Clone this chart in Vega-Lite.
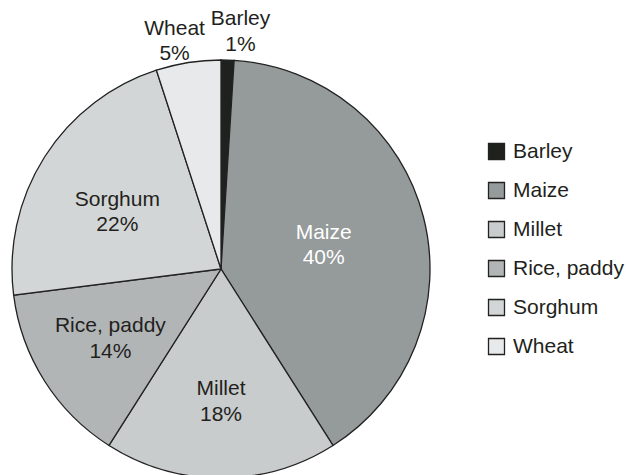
{
  "$schema": "https://vega.github.io/schema/vega-lite/v6.json",
  "width": 418,
  "height": 418,
  "padding": {"left": 12, "top": 60, "right": 196, "bottom": 0},
  "autosize": {"type": "none"},
  "background": "white",
  "config": {"view": {"stroke": null}, "font": "Liberation Sans"},
  "data": {
    "values": [
      {"crop": "Barley", "share": 1},
      {"crop": "Maize", "share": 40},
      {"crop": "Millet", "share": 18},
      {"crop": "Rice, paddy", "share": 14},
      {"crop": "Sorghum", "share": 22},
      {"crop": "Wheat", "share": 5}
    ]
  },
  "transform": [
    {"calculate": "datum.crop + '\\n' + datum.share + '%'", "as": "label"}
  ],
  "encoding": {
    "theta": {"field": "share", "type": "quantitative", "stack": true},
    "order": {"field": "crop", "sort": "ascending"}
  },
  "layer": [
    {
      "mark": {"type": "arc", "stroke": "#222222", "strokeWidth": 1.3},
      "encoding": {
        "color": {
          "field": "crop",
          "type": "nominal",
          "scale": {
            "domain": ["Barley", "Maize", "Millet", "Rice, paddy", "Sorghum", "Wheat"],
            "range": ["#1f211e", "#959a9a", "#c8cccc", "#b1b5b6", "#d3d6d6", "#e8e9ea"]
          },
          "legend": {
            "title": null,
            "orient": "none",
            "legendX": 474,
            "legendY": 81,
            "symbolType": "square",
            "symbolSize": 256,
            "symbolStrokeColor": "#222222",
            "symbolStrokeWidth": 1.3,
            "labelFontSize": 21,
            "labelFont": "Liberation Sans",
            "labelColor": "#231f20",
            "labelOffset": 6,
            "rowPadding": 16
          }
        }
      }
    },
    {
      "mark": {"type": "text", "fontSize": 21, "lineHeight": 25.5, "lineBreak": "\n", "fill": "#ffffff", "align": "center", "baseline": "middle", "dy": -10},
      "encoding": {
        "detail": {"field": "crop"},
        "radius": {"value": 106},
        "text": {"condition": {"test": "datum.crop === 'Maize'", "field": "label"}, "value": ""}
      }
    },
    {
      "mark": {"type": "text", "fontSize": 21, "lineHeight": 25.5, "lineBreak": "\n", "fill": "#231f20", "align": "center", "baseline": "middle", "dx": -4, "dy": -6},
      "encoding": {
        "detail": {"field": "crop"},
        "radius": {"value": 118},
        "text": {"condition": {"test": "datum.crop === 'Sorghum'", "field": "label"}, "value": ""}
      }
    },
    {
      "mark": {"type": "text", "fontSize": 21, "lineHeight": 25.5, "lineBreak": "\n", "fill": "#231f20", "align": "center", "baseline": "middle", "dy": -13},
      "encoding": {
        "detail": {"field": "crop"},
        "radius": {"value": 131},
        "text": {"condition": {"test": "datum.crop === 'Rice, paddy'", "field": "label"}, "value": ""}
      }
    },
    {
      "mark": {"type": "text", "fontSize": 21, "lineHeight": 25.5, "lineBreak": "\n", "fill": "#231f20", "align": "center", "baseline": "middle", "dy": -12},
      "encoding": {
        "detail": {"field": "crop"},
        "radius": {"value": 132},
        "text": {"condition": {"test": "datum.crop === 'Millet'", "field": "label"}, "value": ""}
      }
    },
    {
      "mark": {"type": "text", "fontSize": 21, "lineHeight": 25.5, "lineBreak": "\n", "fill": "#231f20", "align": "center", "baseline": "middle", "dx": -10, "dy": -10},
      "encoding": {
        "detail": {"field": "crop"},
        "radius": {"value": 233},
        "text": {"condition": {"test": "datum.crop === 'Wheat'", "field": "label"}, "value": ""}
      }
    },
    {
      "mark": {"type": "text", "fontSize": 21, "lineHeight": 25.5, "lineBreak": "\n", "fill": "#231f20", "align": "center", "baseline": "middle", "dx": 12, "dy": -11},
      "encoding": {
        "detail": {"field": "crop"},
        "radius": {"value": 239},
        "text": {"condition": {"test": "datum.crop === 'Barley'", "field": "label"}, "value": ""}
      }
    }
  ]
}
